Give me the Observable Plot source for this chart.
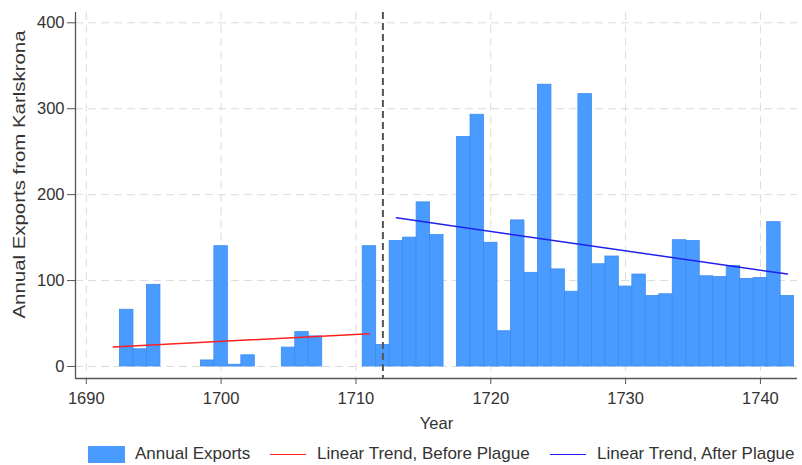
<!DOCTYPE html>
<html>
<head>
<meta charset="utf-8">
<script src="https://cdn.jsdelivr.net/npm/d3@7"></script>
<script src="https://cdn.jsdelivr.net/npm/@observablehq/plot@0.6"></script>
<style>
  body { margin: 0; background: #fff; font-family: "Liberation Sans", Arial, sans-serif; }
  #wrap { width: 802px; height: 465px; position: relative; }
  .legend { position: absolute; top: 443px; left: 0; width: 802px; height: 22px; font-size: 17px; color: #333; }
  .legend .item { position: absolute; top: 0; display: flex; align-items: center; height: 22px; }
  .sw { width: 37px; height: 17px; background: #4a9bff; margin-right: 10px; }
  .ln { width: 36px; height: 0; border-top: 1.5px solid; margin-right: 11px; }
</style>
</head>
<body>
<div id="wrap">
  <div id="chart"></div>
  <div class="legend">
    <div class="item" style="left:88px"><div class="sw"></div><span>Annual Exports</span></div>
    <div class="item" style="left:270px"><div class="ln" style="border-color:#ff2020"></div><span>Linear Trend, Before Plague</span></div>
    <div class="item" style="left:550px"><div class="ln" style="border-color:#2020ee"></div><span>Linear Trend, After Plague</span></div>
  </div>
</div>
<script>
const years = [1693, 1694, 1695, 1699, 1700, 1701, 1702, 1705, 1706, 1707,
  1711, 1712, 1713, 1714, 1715, 1716, 1718, 1719, 1720, 1721,
  1722, 1723, 1724, 1725, 1726, 1727, 1728, 1729, 1730, 1731,
  1732, 1733, 1734, 1735, 1736, 1737, 1738, 1739, 1740, 1741, 1742];
const exportsVals = [66, 20, 95, 7, 140, 2, 13, 22, 40, 35,
  140, 25, 146, 150, 191, 153, 267, 293, 144, 41,
  170, 109, 328, 113, 87, 317, 119, 128, 93, 107,
  82, 84, 147, 146, 105, 104, 117, 102, 103, 168, 82];
const trendBeforeYears = [1692, 1711];
const trendBeforeVals = [22.7, 38.2];
const trendAfterYears = [1713, 1742];
const trendAfterVals = [173, 107.5];
const plagueYear = 1712;
const xTicks = [1690, 1700, 1710, 1720, 1730, 1740];
const yTicks = [0, 100, 200, 300, 400];

const bars = years.map((y, i) => ({year: y, value: exportsVals[i]}));
const before = trendBeforeYears.map((y, i) => ({year: y, value: trendBeforeVals[i]}));
const after = trendAfterYears.map((y, i) => ({year: y, value: trendAfterVals[i]}));

const xDom = [1689.2, 1742.75];
const yDom = [-14, 412];

const chart = Plot.plot({
  width: 802,
  height: 440,
  marginLeft: 75,
  marginRight: 5,
  marginTop: 12,
  marginBottom: 62,
  style: {fontFamily: "Liberation Sans, Arial, sans-serif", fontSize: "16.5px", color: "#333", background: "#fff"},
  x: {domain: xDom},
  y: {domain: yDom},
  marks: [
    Plot.gridY(yTicks, {stroke: "#dcdcdc", strokeOpacity: 1, strokeDasharray: "8,5", strokeWidth: 1}),
    Plot.gridX(xTicks, {stroke: "#dcdcdc", strokeOpacity: 1, strokeDasharray: "8,5", strokeWidth: 1}),
    Plot.rectY(bars, {x1: d => d.year - 0.5, x2: d => d.year + 0.5, y1: 0, y2: "value", fill: "#4a9bff", stroke: "#3a8cf2", strokeWidth: 0.8}),
    Plot.line(before, {x: "year", y: "value", stroke: "#ff2020", strokeWidth: 1.5}),
    Plot.line(after, {x: "year", y: "value", stroke: "#2020ee", strokeWidth: 1.5}),
    Plot.ruleX([plagueYear], {stroke: "#555", strokeWidth: 2, strokeDasharray: "7,4"}),
    Plot.ruleX([xDom[0]], {stroke: "#555", strokeWidth: 1.3}),
    Plot.ruleY([yDom[0]], {stroke: "#555", strokeWidth: 1.3}),
    Plot.axisY(yTicks, {tickSize: 8, tickPadding: 3, stroke: "#555", fontSize: 16.5, label: "Annual Exports from Karlskrona", labelAnchor: "center", labelOffset: 62, labelArrow: "none"}),
    Plot.axisX(xTicks, {tickSize: 6, tickPadding: 8, stroke: "#555", fontSize: 16.5, tickFormat: d => String(d), label: "Year", labelAnchor: "center", labelOffset: 50, labelArrow: "none", y: yDom[0]})
  ]
});
document.getElementById("chart").appendChild(chart);
const yl = chart.querySelector('[aria-label="y-axis label"] text');
if (yl) {
  yl.setAttribute("textLength", "288");
  yl.setAttribute("lengthAdjust", "spacingAndGlyphs");
  const t = yl.getAttribute("transform") || "";
  yl.setAttribute("transform", "translate(0,-21) " + t);
}
</script>
</body>
</html>
